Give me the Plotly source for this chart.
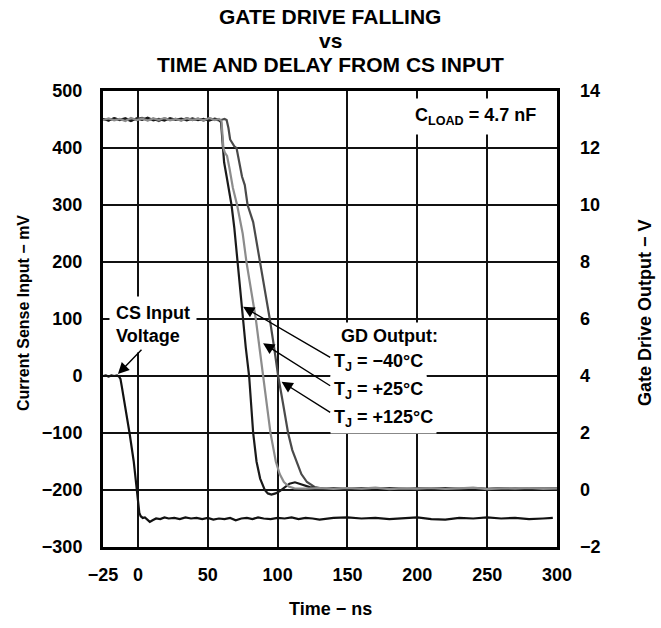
import plotly.graph_objects as go

FONT = "Liberation Sans, Arial, Helvetica, sans-serif"

# ---- axis ticks ----
time_tick_vals = [-25, 0, 50, 100, 150, 200, 250, 300]
time_tick_text = ["−25", "0", "50", "100", "150", "200", "250", "300"]
cs_tick_vals = [-300, -200, -100, 0, 100, 200, 300, 400, 500]
gd_tick_vals = [-2, 0, 2, 4, 6, 8, 10, 12, 14]

# ---- CS input voltage (mV) ----
cs_t = [-25, -23, -21, -19, -17, -15, -13.5, -12.5, -11.5, -9, -6, -3, -1, 0.3, 1, 2, 3.5, 5, 7, 8.5, 10.5, 13,
        16, 19, 22, 26, 30, 34, 38, 42, 46, 50, 54, 58, 62, 66, 70, 74, 78, 82, 86, 90,
        95, 100, 105, 110, 115, 120, 125, 130,
        140, 150, 160, 170, 180, 190, 200, 210, 220, 230, 240, 250, 260, 270, 280, 290, 297]
cs_mv = [0, 1, -1, 1, 0, 1, -1, -5, -19, -55, -100, -150, -190, -225, -240, -246, -249, -248, -252, -256, -253, -250,
         -251, -248, -250, -249, -251, -248, -250, -249, -251, -249, -252, -250, -251, -249, -253, -250, -249, -251,
         -248, -250,
         -251, -249, -250, -248, -251, -249, -250, -252,
         -249, -248, -250, -249, -251, -250, -248, -251, -252, -249, -250, -248, -250, -249, -251, -250, -249]

# ---- gate drive output (V) ----
flat_t = [-25, -21, -17, -13, -9, -5, -1, 3, 7, 11, 15, 19, 23, 27, 31, 35, 39, 43, 47, 51, 55, 58]
tail_t = [140, 150, 160, 170, 180, 190, 200, 210, 220, 230, 240, 250, 260, 270, 280, 290, 300]

gd_m40_t = flat_t + [59.5, 60.5, 61.7, 63.5, 65.5, 67, 69, 71.3, 73, 74.8, 77.2, 79.6, 81, 82.5, 84.9, 87.5,
                     90.8, 93, 95.6, 98.5, 101.6, 105, 108.5, 112.4, 116, 119.5, 123, 128, 135] + tail_t
gd_m40_v = [13.02, 12.96, 13.05, 12.98, 13.03, 12.95, 13.04, 12.99, 13.06, 12.97, 13.02, 12.96, 13.05, 12.99,
            13.03, 12.97, 13.04, 12.98, 13.02, 12.96, 13.03, 12.99] + \
           [12.9, 12.1, 11.5, 11.0, 10.4, 10.0, 9.2, 8.0, 7.0, 6.0, 5.0, 4.0, 3.0, 2.0, 1.0, 0.4,
            0.0, -0.12, -0.16, -0.12, -0.04, 0.1, 0.22, 0.27, 0.22, 0.16, 0.1, 0.06, 0.04] + \
           [0.06, 0.03, 0.07, 0.04, 0.05, 0.02, 0.06, 0.04, 0.07, 0.03, 0.05, 0.04, 0.06, 0.02, 0.05, 0.04, 0.06]

gd_p25_t = flat_t + [59.8, 60.5, 61.2, 62.2, 63.8, 65.5, 68, 71, 73, 75, 77.7, 81, 84.4, 87, 89.6, 92.2,
                     94.9, 98.7, 101.5, 104.5, 108, 112, 120, 130] + tail_t
gd_p25_v = [12.98, 13.04, 12.97, 13.02, 12.95, 13.05, 12.98, 13.03, 12.96, 13.04, 12.99, 13.05, 12.97, 13.02,
            12.96, 13.04, 12.99, 13.03, 12.97, 13.05, 12.98, 13.02] + \
           [12.95, 12.6, 12.0, 11.84, 11.72, 11.3, 10.6, 10.0, 9.5, 9.0, 8.0, 7.0, 6.0, 5.0, 4.0, 3.0,
            2.0, 1.0, 0.56, 0.28, 0.12, 0.06, 0.05, 0.07] + \
           [0.04, 0.07, 0.05, 0.08, 0.03, 0.06, 0.05, 0.07, 0.04, 0.06, 0.08, 0.03, 0.06, 0.05, 0.07, 0.04, 0.06]

gd_p125_t = flat_t + [60.5, 62, 63.5, 64.8, 66, 67, 69, 70.6, 72.5, 74.5, 76.5, 78.5, 82.5, 85, 87.3, 91,
                      94.4, 97.5, 100.4, 104, 107.5, 110.5, 113.6, 117, 121, 126.7, 133] + tail_t
gd_p125_v = [13.01, 12.97, 13.04, 12.99, 13.05, 12.96, 13.02, 13.06, 12.98, 13.03, 12.95, 13.04, 12.99, 13.02,
             12.97, 13.05, 12.98, 13.03, 12.96, 13.04, 13.0, 12.97] + \
            [13.0, 13.02, 12.98, 12.7, 12.3, 12.2, 12.06, 12.0, 11.5, 11.0, 10.7, 10.0, 9.4, 8.7, 8.0, 7.0,
             6.0, 5.0, 4.0, 3.0, 2.0, 1.4, 1.0, 0.56, 0.28, 0.1, 0.04] + \
            [0.05, 0.03, 0.06, 0.04, 0.07, 0.05, 0.03, 0.06, 0.04, 0.05, 0.07, 0.03, 0.05, 0.06, 0.04, 0.05, 0.03]

title_lines = ["GATE DRIVE FALLING", "vs", "TIME AND DELAY FROM CS INPUT"]

fig = go.Figure()
fig.add_trace(go.Scatter(x=cs_t, y=cs_mv, mode="lines", yaxis="y",
                         line=dict(color="#111111", width=2.2), showlegend=False))
fig.add_trace(go.Scatter(x=gd_p125_t, y=gd_p125_v, mode="lines", yaxis="y2",
                         line=dict(color="#4a4a4a", width=2.2), showlegend=False))
fig.add_trace(go.Scatter(x=gd_m40_t, y=gd_m40_v, mode="lines", yaxis="y2",
                         line=dict(color="#1a1a1a", width=2.2), showlegend=False))
fig.add_trace(go.Scatter(x=gd_p25_t, y=gd_p25_v, mode="lines", yaxis="y2",
                         line=dict(color="#8c8c8c", width=2.2), showlegend=False))

tickfont = dict(family=FONT, size=18, color="black", weight="bold")

fig.update_layout(
    width=661, height=628,
    margin=dict(l=103, r=104, t=91, b=81),
    paper_bgcolor="white", plot_bgcolor="white",
    font=dict(family=FONT, color="black"),
    xaxis=dict(range=[-25, 300], tickvals=time_tick_vals, ticktext=time_tick_text,
               showgrid=True, gridcolor="#111111", gridwidth=1.5, zeroline=False,
               showline=True, mirror=True, linecolor="black", linewidth=3,
               ticks="", tickfont=tickfont, ticklabelstandoff=9),
    yaxis=dict(range=[-300, 500], tickvals=cs_tick_vals,
               showgrid=True, gridcolor="#111111", gridwidth=1.5, zeroline=False,
               showline=True, mirror=True, linecolor="black", linewidth=3,
               ticks="", tickfont=tickfont, ticklabelstandoff=14),
    yaxis2=dict(range=[-2, 14], tickvals=gd_tick_vals, overlaying="y", side="right",
                showgrid=False, zeroline=False, showline=False,
                ticks="", tickfont=tickfont, ticklabelstandoff=22),
)

def txt(s):
    return "<b>" + s + "</b>"

annots = []
# title lines (pixel centres from top: 16, 40, 64 -> shift above plot top at 91)
for line, yc in zip(title_lines, [16, 40, 64]):
    annots.append(dict(text=txt(line), x=0.5, y=1, xref="paper", yref="paper",
                       xanchor="center", yanchor="middle", yshift=91 - yc,
                       showarrow=False, font=dict(family=FONT, size=21, color="black")))

annots += [
    # axis titles
    dict(text=txt("Time − ns"), x=0.5, y=0, xref="paper", yref="paper", xanchor="center",
         yanchor="middle", yshift=-62, showarrow=False, font=dict(family=FONT, size=18, color="black")),
    dict(text=txt("Current Sense Input − mV"), x=0, y=0.5, xref="paper", yref="paper",
         xanchor="center", yanchor="middle", xshift=-80, yshift=6, textangle=-90,
         showarrow=False, font=dict(family=FONT, size=16, color="black")),
    dict(text=txt("Gate Drive Output − V"), x=1, y=0.5, xref="paper", yref="paper",
         xanchor="center", yanchor="middle", xshift=88, yshift=6, textangle=-90,
         showarrow=False, font=dict(family=FONT, size=18, color="black")),
    # in-plot labels
    dict(text=txt("C<sub>LOAD</sub> = 4.7 nF"), x=290, y=456, xref="x", yref="y",
         xanchor="right", yanchor="middle", showarrow=False, bgcolor="white", borderpad=6,
         font=dict(family=FONT, size=18, color="black")),
    dict(text=txt("CS Input<br>Voltage"), x=-20.5, y=91, xref="x", yref="y", align="left",
         xanchor="left", yanchor="middle", showarrow=False, bgcolor="white", borderpad=6,
         font=dict(family=FONT, size=18, color="black")),
    dict(text=txt("GD Output:"), x=142.5, y=71, xref="x", yref="y", align="left",
         xanchor="left", yanchor="middle", showarrow=False, bgcolor="white", borderpad=3,
         font=dict(family=FONT, size=18, color="black")),
    dict(text=txt("T<sub>J</sub> = −40°C"), x=137.5, y=23, xref="x", yref="y", align="left",
         xanchor="left", yanchor="middle", showarrow=False, bgcolor="white", borderpad=3,
         font=dict(family=FONT, size=18, color="black")),
    dict(text=txt("T<sub>J</sub> = +25°C"), x=137.5, y=-26, xref="x", yref="y", align="left",
         xanchor="left", yanchor="middle", showarrow=False, bgcolor="white", borderpad=3,
         font=dict(family=FONT, size=18, color="black")),
    dict(text=txt("T<sub>J</sub> = +125°C"), x=137.5, y=-74, xref="x", yref="y", align="left",
         xanchor="left", yanchor="middle", showarrow=False, bgcolor="white", borderpad=3,
         font=dict(family=FONT, size=18, color="black")),
]

# arrows: (tip_t, tip_mV, tail_t, tail_mV)
arrows = [(-14.3, 3.5, 3.6, 48.6), (75.3, 121.6, 138.7, 31), (89.6, 57.4, 138.7, -18.8), (102.8, -10, 138.7, -65.4)]
for tx, ty, axv, ayv in arrows:
    annots.append(dict(text="", x=tx, y=ty, ax=axv, ay=ayv, xref="x", yref="y", axref="x", ayref="y",
                       showarrow=True, arrowhead=2, arrowsize=1.6, arrowwidth=1.4, arrowcolor="black",
                       standoff=0, startstandoff=0))

fig.update_layout(annotations=annots)
fig.write_html("out.html")
